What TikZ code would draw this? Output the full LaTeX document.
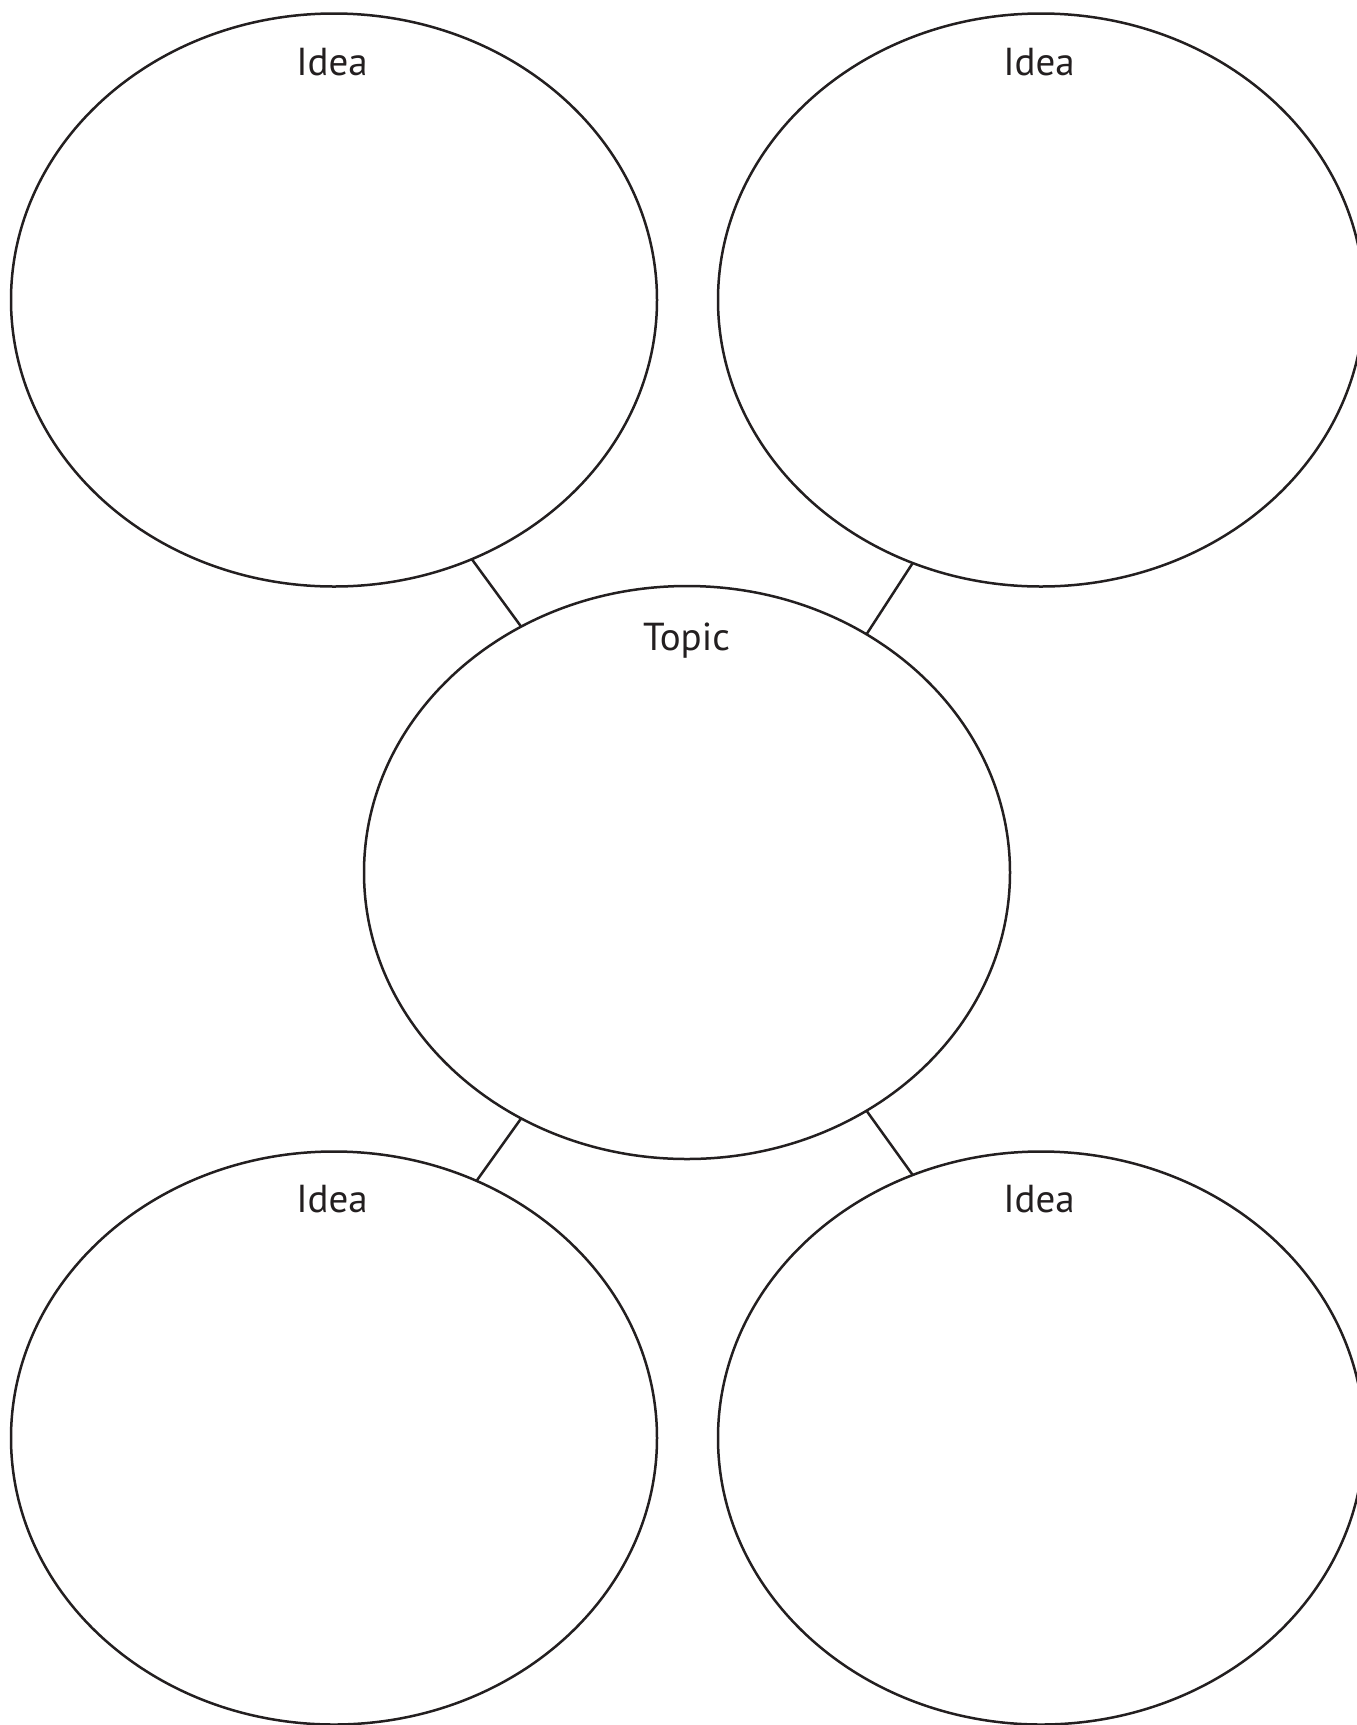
\documentclass[tikz,border=0pt]{standalone}
\usepackage{fontspec}
\setmainfont{PT Sans}
\usetikzlibrary{shapes.geometric}
\definecolor{ink}{HTML}{231F20}
\begin{document}
\begin{tikzpicture}[x=0.5pt,y=-0.5pt,
  bubble/.style={draw=ink,line width=1.25pt,ellipse,minimum width=323pt,minimum height=286.5pt,inner sep=0pt,outer sep=0pt},
  link/.style={draw=ink,line width=1.25pt},
  lbl/.style={anchor=base,text=ink,font=\fontsize{19.5}{22}\selectfont,inner sep=0pt}]
\useasboundingbox (0,0) rectangle (1356,1725);
\fill[white] (0,0) rectangle (1356,1725);
\node[bubble] (tl) at (334,300) {};
\node[bubble] (tr) at (1041,300) {};
\node[bubble] (c) at (687,872.5) {};
\node[bubble] (bl) at (334,1438) {};
\node[bubble] (br) at (1041,1438) {};
\node[lbl] (ltl) at (332,75) {Idea};
\node[lbl] (ltr) at (1039,75) {Idea};
\node[lbl] (lc) at (686.5,650) {Topic};
\node[lbl] (lbl) at (332,1212) {Idea};
\node[lbl] (lbr) at (1039,1212) {Idea};
\draw[link] (tl.-62) -- (c.124);
\draw[link] (tr.-116) -- (c.53);
\draw[link] (bl.61) -- (c.-124);
\draw[link] (br.116) -- (c.-53);
\end{tikzpicture}
\end{document}
